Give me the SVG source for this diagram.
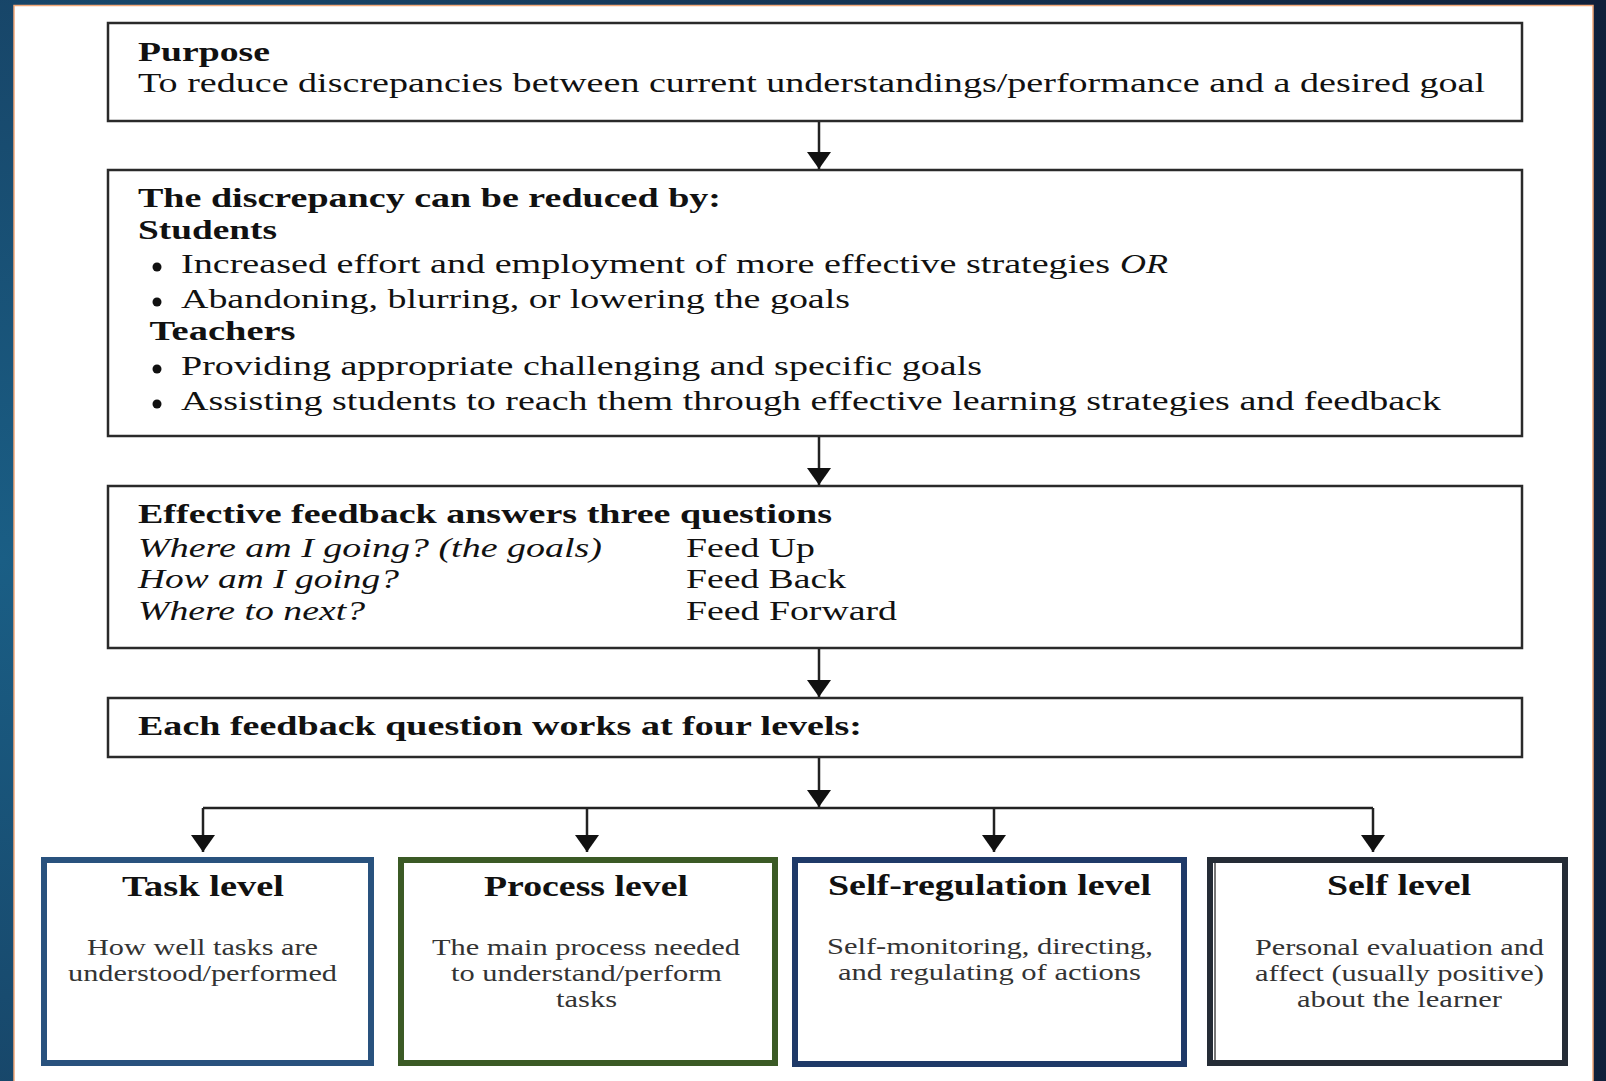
<svg xmlns="http://www.w3.org/2000/svg" width="1606" height="1081" viewBox="0 0 1606 1081">
<defs>
<radialGradient id="bg" cx="0" cy="560" r="1700" gradientUnits="userSpaceOnUse">
<stop offset="0" stop-color="#1a5e85"/>
<stop offset="0.5" stop-color="#16395a"/>
<stop offset="1" stop-color="#10203a"/>
</radialGradient>
<marker id="ah" markerUnits="userSpaceOnUse" markerWidth="17" markerHeight="24" viewBox="0 0 17 24" refX="17" refY="12" orient="auto">
<path d="M0,0 L17,12 L0,24 Z" fill="#111"/>
</marker>
<style>
.box{fill:#fff;stroke:#2a2a2a;stroke-width:2.5}
.lvl{fill:#fff;stroke-width:6}
.t{font-family:"Liberation Serif","Times New Roman",serif;font-size:27px;fill:#111}
.b{font-weight:bold}
.i{font-style:italic}
.dot{fill:#111}
.h{font-family:"Liberation Serif","Times New Roman",serif;font-size:30px;font-weight:bold;fill:#111}
.d{font-family:"Liberation Serif","Times New Roman",serif;font-size:24px;fill:#333}
.c{fill:none;stroke:#222;stroke-width:2.5}
</style>
</defs>
<rect x="0" y="0" width="1606" height="1081" fill="url(#bg)"/>
<rect x="14" y="5.5" width="1579" height="1080" fill="#fff" stroke="#f2a878" stroke-width="1.5"/>

<g id="purpose">
<rect class="box" x="108" y="23" width="1414" height="98"/>
<text class="t b" x="138" y="61" textLength="132" lengthAdjust="spacingAndGlyphs">Purpose</text>
<text class="t" x="138" y="92" textLength="1347" lengthAdjust="spacingAndGlyphs">To reduce discrepancies between current understandings/performance and a desired goal</text>
</g>

<g id="discrepancy">
<rect class="box" x="108" y="170" width="1414" height="266"/>
<text class="t b" x="138" y="207" textLength="583" lengthAdjust="spacingAndGlyphs">The discrepancy can be reduced by:</text>
<text class="t b" x="138" y="239" textLength="139" lengthAdjust="spacingAndGlyphs">Students</text>
<circle class="dot" cx="157" cy="267" r="4.5"/>
<text class="t" x="181" y="273" textLength="929" lengthAdjust="spacingAndGlyphs">Increased effort and employment of more effective strategies</text>
<text class="t i" x="1120" y="273" textLength="48" lengthAdjust="spacingAndGlyphs">OR</text>
<circle class="dot" cx="157" cy="302" r="4.5"/>
<text class="t" x="181" y="308" textLength="669" lengthAdjust="spacingAndGlyphs">Abandoning, blurring, or lowering the goals</text>
<text class="t b" x="149.5" y="340" textLength="146" lengthAdjust="spacingAndGlyphs">Teachers</text>
<circle class="dot" cx="157" cy="369" r="4.5"/>
<text class="t" x="181" y="375" textLength="801" lengthAdjust="spacingAndGlyphs">Providing appropriate challenging and specific goals</text>
<circle class="dot" cx="157" cy="404" r="4.5"/>
<text class="t" x="181" y="410" textLength="1260" lengthAdjust="spacingAndGlyphs">Assisting students to reach them through effective learning strategies and feedback</text>
</g>

<g id="questions">
<rect class="box" x="108" y="486" width="1414" height="162"/>
<text class="t b" x="138" y="523" textLength="694" lengthAdjust="spacingAndGlyphs">Effective feedback answers three questions</text>
<text class="t i" x="138" y="557" textLength="464" lengthAdjust="spacingAndGlyphs">Where am I going? (the goals)</text>
<text class="t i" x="138" y="588" textLength="261" lengthAdjust="spacingAndGlyphs">How am I going?</text>
<text class="t i" x="138" y="620" textLength="227" lengthAdjust="spacingAndGlyphs">Where to next?</text>
<text class="t" x="686" y="557" textLength="129" lengthAdjust="spacingAndGlyphs">Feed Up</text>
<text class="t" x="686" y="588" textLength="160" lengthAdjust="spacingAndGlyphs">Feed Back</text>
<text class="t" x="686" y="620" textLength="211" lengthAdjust="spacingAndGlyphs">Feed Forward</text>
</g>

<g id="levels">
<rect class="box" x="108" y="698" width="1414" height="59"/>
<text class="t b" x="138" y="735" textLength="724" lengthAdjust="spacingAndGlyphs">Each feedback question works at four levels:</text>
</g>

<g id="task">
<rect class="lvl" x="44" y="860" width="327" height="203" stroke="#29527e"/>
<text class="h" x="122" y="896" textLength="162" lengthAdjust="spacingAndGlyphs">Task level</text>
<text class="d" x="87" y="955" textLength="231" lengthAdjust="spacingAndGlyphs">How well tasks are</text>
<text class="d" x="68" y="981" textLength="269" lengthAdjust="spacingAndGlyphs">understood/performed</text>
</g>

<g id="process">
<rect class="lvl" x="401" y="860" width="374" height="203" stroke="#3b5a25"/>
<text class="h" x="484" y="896" textLength="204" lengthAdjust="spacingAndGlyphs">Process level</text>
<text class="d" x="432" y="955" textLength="308" lengthAdjust="spacingAndGlyphs">The main process needed</text>
<text class="d" x="451" y="981" textLength="271" lengthAdjust="spacingAndGlyphs">to understand/perform</text>
<text class="d" x="556" y="1007" textLength="61" lengthAdjust="spacingAndGlyphs">tasks</text>
</g>

<g id="selfregulation">
<rect class="lvl" x="795" y="860" width="389" height="204" stroke="#1f3a68"/>
<text class="h" x="828" y="895" textLength="323" lengthAdjust="spacingAndGlyphs">Self-regulation level</text>
<text class="d" x="827" y="954" textLength="326" lengthAdjust="spacingAndGlyphs">Self-monitoring, directing,</text>
<text class="d" x="838" y="980" textLength="303" lengthAdjust="spacingAndGlyphs">and regulating of actions</text>
</g>

<g id="self">
<rect class="lvl" x="1210" y="860" width="355" height="203" stroke="#252c36"/>
<line x1="1215" y1="863" x2="1215" y2="1060" stroke="#777" stroke-width="2"/>
<text class="h" x="1327" y="895" textLength="144" lengthAdjust="spacingAndGlyphs">Self level</text>
<text class="d" x="1255" y="955" textLength="289" lengthAdjust="spacingAndGlyphs">Personal evaluation and</text>
<text class="d" x="1255" y="981" textLength="289" lengthAdjust="spacingAndGlyphs">affect (usually positive)</text>
<text class="d" x="1297" y="1007" textLength="205" lengthAdjust="spacingAndGlyphs">about the learner</text>
</g>

<g id="connectors">
<line class="c" x1="819" y1="122" x2="819" y2="169" marker-end="url(#ah)"/>
<line class="c" x1="819" y1="437" x2="819" y2="485" marker-end="url(#ah)"/>
<line class="c" x1="819" y1="649" x2="819" y2="697" marker-end="url(#ah)"/>
<line class="c" x1="819" y1="758" x2="819" y2="807" marker-end="url(#ah)"/>
<line class="c" x1="203" y1="808" x2="1373" y2="808"/>
<line class="c" x1="203" y1="808" x2="203" y2="852" marker-end="url(#ah)"/>
<line class="c" x1="587" y1="808" x2="587" y2="852" marker-end="url(#ah)"/>
<line class="c" x1="994" y1="808" x2="994" y2="852" marker-end="url(#ah)"/>
<line class="c" x1="1373" y1="808" x2="1373" y2="852" marker-end="url(#ah)"/>
</g>
</svg>
